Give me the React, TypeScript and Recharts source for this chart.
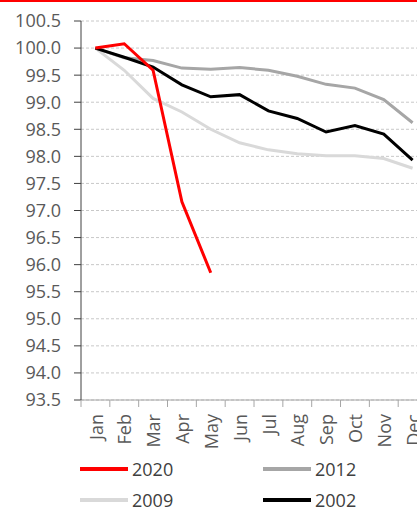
import React from 'react'
import { LineChart, Line, XAxis, YAxis, CartesianGrid, Legend } from 'recharts'

const months = ['Jan', 'Feb', 'Mar', 'Apr', 'May', 'Jun', 'Jul', 'Aug', 'Sep', 'Oct', 'Nov', 'Dec']
const y2020 = [100.0, 100.08, 99.59, 97.16, 95.85, null, null, null, null, null, null, null]
const y2012 = [100.0, 99.82, 99.77, 99.63, 99.61, 99.64, 99.59, 99.48, 99.33, 99.26, 99.05, 98.62]
const y2009 = [100.0, 99.59, 99.07, 98.82, 98.5, 98.25, 98.12, 98.05, 98.01, 98.01, 97.96, 97.78]
const y2002 = [100.0, 99.83, 99.65, 99.32, 99.1, 99.14, 98.84, 98.7, 98.45, 98.57, 98.41, 97.93]
const yTicks = [93.5, 94, 94.5, 95, 95.5, 96, 96.5, 97, 97.5, 98, 98.5, 99, 99.5, 100, 100.5]

const series = [
  { key: 'y2009', name: '2009', color: '#d9d9d9' },
  { key: 'y2012', name: '2012', color: '#a6a6a6' },
  { key: 'y2002', name: '2002', color: '#000000' },
  { key: 'y2020', name: '2020', color: '#ff0000' },
]
const legendOrder = [
  ['y2020', 'y2012'],
  ['y2009', 'y2002'],
]

const data = months.map((m, i) => ({
  month: m,
  y2020: y2020[i],
  y2012: y2012[i],
  y2009: y2009[i],
  y2002: y2002[i],
}))

const FONT = '"Open Sans", sans-serif'
const HALF_BAND = 14.4

function MonthTick(props: any) {
  const { x, y, payload } = props
  return (
    <g>
      <line x1={x - HALF_BAND} x2={x - HALF_BAND} y1={y - 14} y2={y - 7} stroke="#a6a6a6" />
      <text
        x={x}
        y={y}
        dy="0.4em"
        transform={`rotate(-90, ${x}, ${y})`}
        textAnchor="end"
        fill="#595959"
        fontSize={18}
        fontFamily={FONT}
      >
        {payload.value}
      </text>
    </g>
  )
}

function LegendBox() {
  const byKey: Record<string, any> = {}
  series.forEach((s) => (byKey[s.key] = s))
  return (
    <div style={{ position: 'relative', width: 430, height: 62, fontFamily: FONT }}>
      {legendOrder.map((row, r) =>
        row.map((k, c) => (
          <div
            key={k}
            style={{
              position: 'absolute',
              left: c === 0 ? 80 : 263,
              top: r * 31,
              height: 28,
              display: 'flex',
              alignItems: 'center',
            }}
          >
            <span style={{ display: 'inline-block', width: 48, height: 4, background: byKey[k].color }} />
            <span style={{ marginLeft: 4, fontSize: 18, color: '#404040' }}>{byKey[k].name}</span>
          </div>
        ))
      )}
    </div>
  )
}

export default function App() {
  return (
    <div style={{ position: 'absolute', left: 0, top: 0, width: 430, height: 520 }}>
      <div style={{ position: 'absolute', left: 0, top: 0, width: 430, height: 2, background: '#ff0000' }} />
      <LineChart width={430} height={520} data={data} margin={{ top: 21, right: 3, left: 0, bottom: 60 }}>
        <CartesianGrid vertical={false} stroke="#c8c8c8" strokeDasharray="3 2" />
        <XAxis
          dataKey="month"
          padding={{ left: HALF_BAND, right: HALF_BAND }}
          interval={0}
          height={60}
          tickSize={7}
          tickMargin={7}
          tickLine={false}
          axisLine={{ stroke: '#a6a6a6' }}
          tick={<MonthTick />}
        />
        <YAxis
          width={81}
          domain={[93.5, 100.5]}
          ticks={yTicks}
          interval={0}
          allowDataOverflow
          tickSize={7}
          tickMargin={13}
          tickFormatter={(v: number) => v.toFixed(1)}
          axisLine={{ stroke: '#404040' }}
          tickLine={{ stroke: '#404040' }}
          tick={{ fill: '#595959', fontSize: 18, fontFamily: FONT }}
        />
        <Legend
          layout="horizontal"
          verticalAlign="middle"
          align="center"
          wrapperStyle={{ top: 455, left: 0, width: 430 }}
          content={() => <LegendBox />}
        />
        {series.map((s) => (
          <Line
            key={s.key}
            type="linear"
            dataKey={s.key}
            name={s.name}
            stroke={s.color}
            strokeWidth={3}
            dot={false}
            activeDot={false}
            isAnimationActive={false}
          />
        ))}
      </LineChart>
    </div>
  )
}
